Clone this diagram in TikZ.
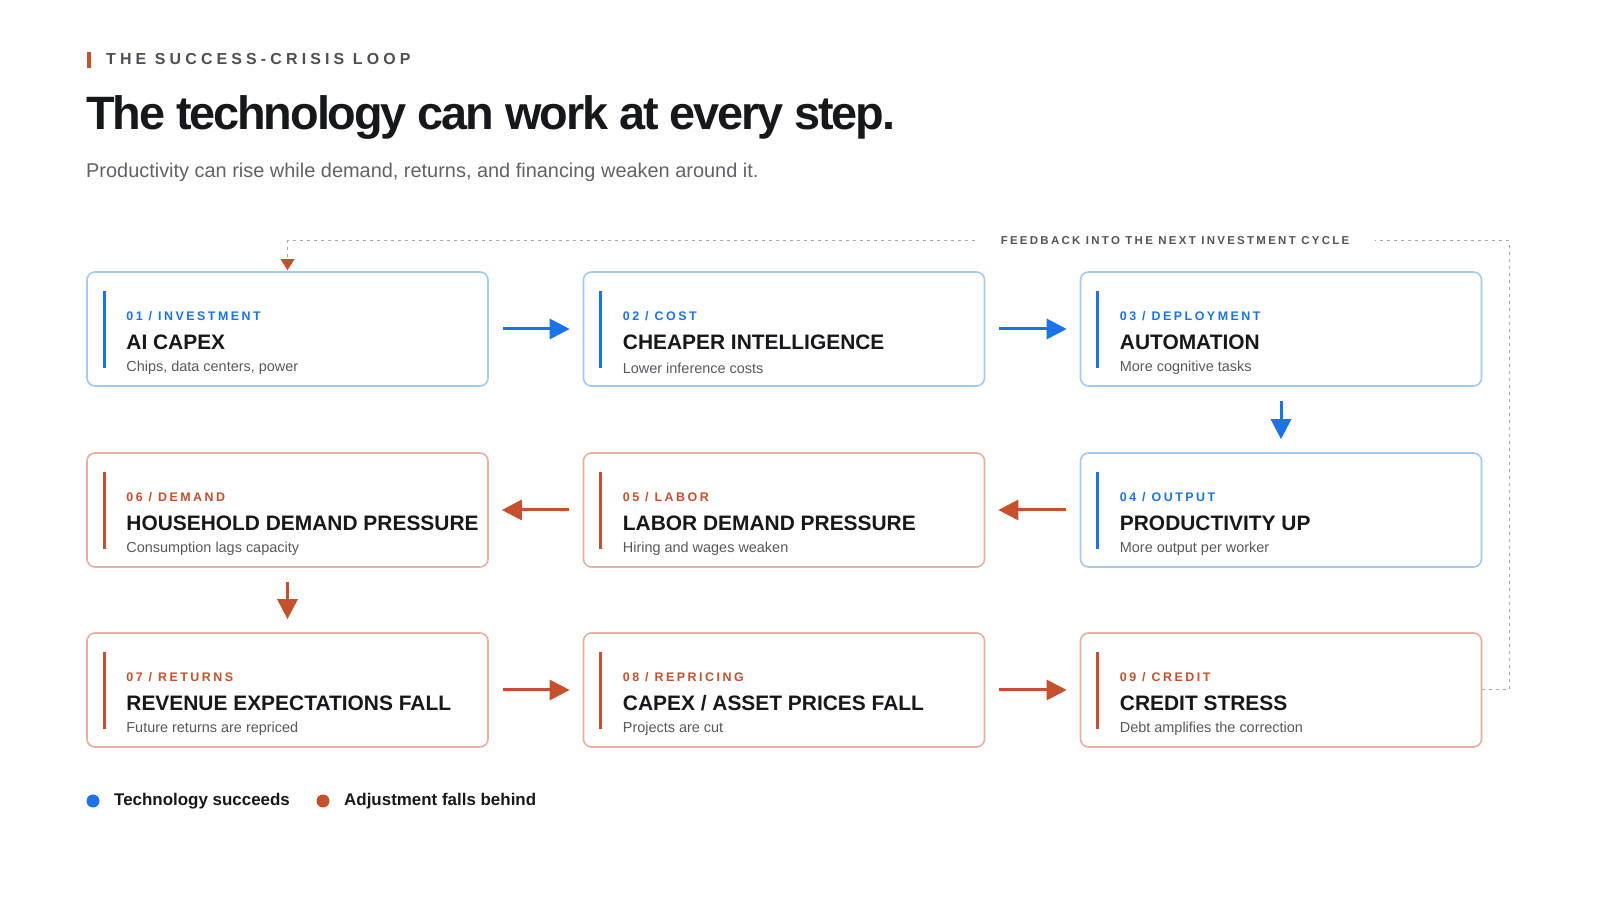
\documentclass[tikz,border=0pt]{standalone}
\usepackage{fontspec}
\setmainfont{Liberation Sans}
\newfontfamily\spaced[LetterSpace=20]{Liberation Sans}
\newfontfamily\wide[LetterSpace=26]{Liberation Sans}
\newfontfamily\tight[LetterSpace=-4.5]{Liberation Sans}
\usetikzlibrary{arrows.meta}
\definecolor{cblue}{HTML}{1A73E8}
\definecolor{cred}{HTML}{C4502E}
\definecolor{lblue}{HTML}{A3C8F2}
\definecolor{lred}{HTML}{E8AE9E}
\definecolor{ink}{HTML}{16181C}
\definecolor{grey}{HTML}{5F6368}
\tikzset{
  box/.style={draw=#1, line width=1.6bp, rounded corners=8bp, minimum width=401bp, minimum height=114bp, fill=white},
  lab/.style={anchor=west, text=#1, font=\spaced\bfseries\fontsize{12.5}{14}\selectfont, inner sep=0},
  ttl/.style={anchor=west, text=ink, font=\bfseries\fontsize{21}{24}\selectfont, inner sep=0},
  sub/.style={anchor=west, text=grey!90!black, font=\fontsize{14.5}{16}\selectfont, inner sep=0},
  arr/.style={draw=#1, line width=3bp, -{Triangle[length=20bp,width=20bp]}, shorten <=14bp, shorten >=13bp},
  fb/.style={draw=gray!70, line width=1bp, dash pattern=on 3bp off 4bp},
}
\newcommand\stepbox[8]{% name, cx, cy, line, accent, label, title, sub
  \node[box=#4] (#1) at (#2,#3) {};
  \draw[#5, line width=3bp] ([xshift=18bp,yshift=-20bp]#1.north west) -- ([xshift=18bp,yshift=19bp]#1.south west);
  \node[lab=#5] (#1l) at ([xshift=40bp]#1.west |- 0,#3+13) {#6};
  \node[ttl] (#1t) at ([xshift=40bp]#1.west |- 0,#3-13) {#7};
  \node[sub] (#1s) at ([xshift=40bp]#1.west |- 0,#3-39) {#8};
}
\begin{document}
\begin{tikzpicture}[x=1bp,y=1bp]
\useasboundingbox (0,0) rectangle (1600,900);
\fill[white] (0,0) rectangle (1600,900);
% header
\fill[cred] (87,832) rectangle (91,848);
\node[anchor=west, inner sep=0, text=grey!80!black, font=\wide\bfseries\fontsize{16}{18}\selectfont] (kick) at (106,841) {THE SUCCESS-CRISIS LOOP};
\node[anchor=west, inner sep=0, text=ink, font=\tight\bfseries\fontsize{47}{52}\selectfont] (head) at (86,782) {The technology can work at every step.};
\node[anchor=west, inner sep=0, text=grey, font=\fontsize{20}{22}\selectfont] (subh) at (86,728) {Productivity can rise while demand, returns, and financing weaken around it.};
% boxes
\stepbox{c1}{287.5}{571}{lblue}{cblue}{01 / INVESTMENT}{AI CAPEX}{Chips, data centers, power}
\stepbox{c2}{784}{571}{lblue}{cblue}{02 / COST}{CHEAPER INTELLIGENCE}{Lower inference costs}
\stepbox{c3}{1281}{571}{lblue}{cblue}{03 / DEPLOYMENT}{AUTOMATION}{More cognitive tasks}
\stepbox{c4}{1281}{390}{lblue}{cblue}{04 / OUTPUT}{PRODUCTIVITY UP}{More output per worker}
\stepbox{c5}{784}{390}{lred}{cred}{05 / LABOR}{LABOR DEMAND PRESSURE}{Hiring and wages weaken}
\stepbox{c6}{287.5}{390}{lred}{cred}{06 / DEMAND}{HOUSEHOLD DEMAND PRESSURE}{Consumption lags capacity}
\stepbox{c7}{287.5}{210}{lred}{cred}{07 / RETURNS}{REVENUE EXPECTATIONS FALL}{Future returns are repriced}
\stepbox{c8}{784}{210}{lred}{cred}{08 / REPRICING}{CAPEX / ASSET PRICES FALL}{Projects are cut}
\stepbox{c9}{1281}{210}{lred}{cred}{09 / CREDIT}{CREDIT STRESS}{Debt amplifies the correction}
% arrows
\draw[arr=cblue] (c1) -- (c2);
\draw[arr=cblue] (c2) -- (c3);
\draw[arr=cblue] (c3) -- (c4);
\draw[arr=cred] (c4) -- (c5);
\draw[arr=cred] (c5) -- (c6);
\draw[arr=cred] (c6) -- (c7);
\draw[arr=cred] (c7) -- (c8);
\draw[arr=cred] (c8) -- (c9);
% feedback
\node[inner sep=0, text=grey!85!black, font=\spaced\bfseries\fontsize{11.5}{13}\selectfont] (fbt) at (1175,659) {FEEDBACK INTO THE NEXT INVESTMENT CYCLE};
\coordinate (fr) at (1509,659);
\coordinate (fl) at (287.5,659);
\draw[fb] (c9.east) -- (c9.east -| fr) -- (fr) -- ([xshift=26bp]fbt.east);
\draw[fb] ([xshift=-26bp]fbt.west) -- (fl) -- ([yshift=10bp]c1.north);
\fill[cred] ([yshift=12bp,xshift=-7bp]c1.north) -- ([yshift=12bp,xshift=7bp]c1.north) -- ([yshift=1bp]c1.north) -- cycle;
% legend
\fill[cblue] (93,99) circle (6.5bp);
\node[anchor=west, inner sep=0, text=ink, font=\bfseries\fontsize{17}{19}\selectfont] (lg1) at (114,99) {Technology succeeds};
\fill[cred] (323,99) circle (6.5bp);
\node[anchor=west, inner sep=0, text=ink, font=\bfseries\fontsize{17}{19}\selectfont] (lg2) at (344,99) {Adjustment falls behind};
\end{tikzpicture}
\end{document}
